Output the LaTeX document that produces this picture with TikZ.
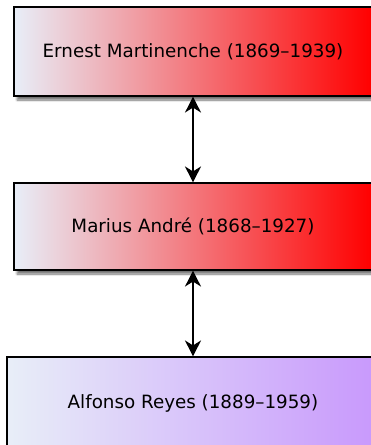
\documentclass[tikz,border=0pt]{standalone}
\usepackage{fontspec}
\setmainfont{DejaVu Sans}
\usepackage{tikz}
\usetikzlibrary{arrows.meta,shadows.blur}
\usepackage{xcolor}
\definecolor{paleblue}{HTML}{E8EEF8}
\definecolor{lilac}{HTML}{C898FC}

\begin{document}
\begin{tikzpicture}[x=1pt,y=1pt,>={Stealth[length=16pt,width=16pt,inset=5pt]},font=\fontsize{18.3}{21}\selectfont,
  person/.style={draw=black,line width=1.1pt,minimum width=358pt,minimum height=89pt,left color=paleblue,
    blur shadow={shadow xshift=3pt,shadow yshift=-4pt,shadow blur steps=6,shadow opacity=55}},
  link/.style={<->,line width=1.5pt}]
\useasboundingbox (0,0) rectangle (370,-445);
\node[person,right color=red] (martinenche) at (193,-51.5) {Ernest Martinenche (1869--1939)};
\node[person,right color=red,minimum height=87pt] (andre) at (193,-226.5) {Marius André (1868--1927)};
\node[person,right color=lilac,minimum width=372pt,minimum height=92pt] (reyes) at (193,-403) {Alfonso Reyes (1889--1959)};
\draw[link] (martinenche.south) -- (andre.north);
\draw[link] (andre.south) -- (reyes.north);
\end{tikzpicture}
\end{document}
